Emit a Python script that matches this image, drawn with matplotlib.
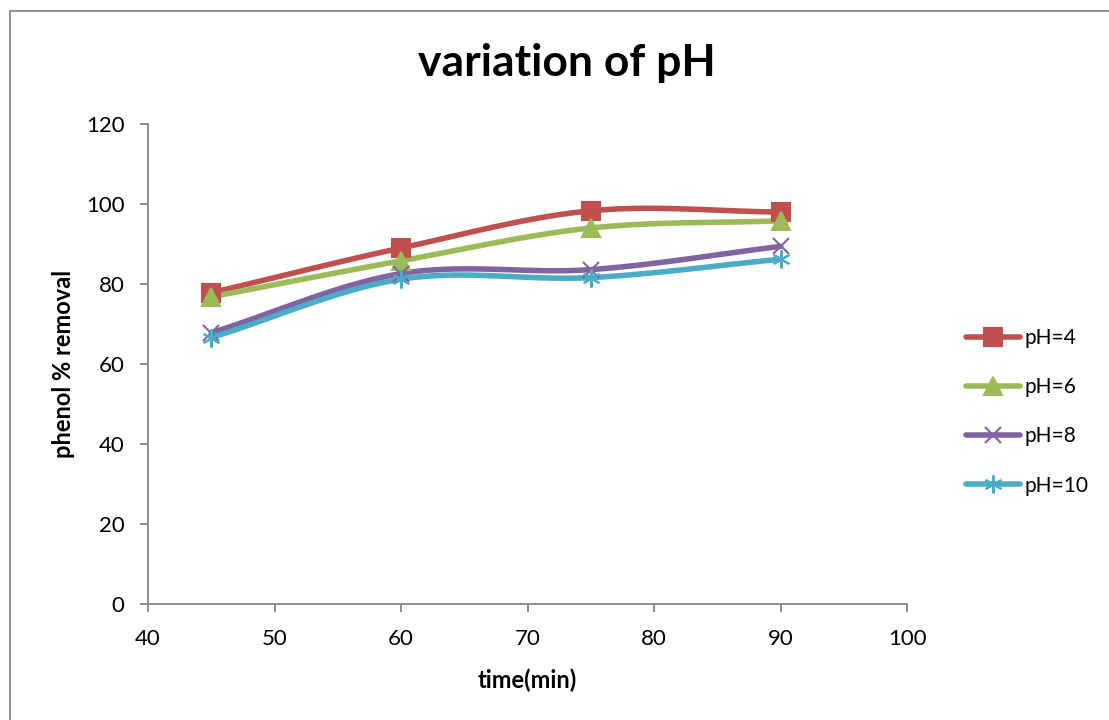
import numpy as np
import matplotlib
matplotlib.use("Agg")
import matplotlib.pyplot as plt
from matplotlib.patches import Rectangle
from matplotlib.lines import Line2D

plt.rcParams["font.family"] = ["Lato", "DejaVu Sans"]

time_min = [45, 60, 75, 90]
series_labels = ["pH=4", "pH=6", "pH=8", "pH=10"]
ph4 = [77.8, 89.0, 98.3, 98.0]
ph6 = [76.8, 85.8, 94.0, 95.8]
ph8 = [67.8, 82.6, 83.6, 89.4]
ph10 = [66.6, 81.2, 81.6, 86.2]

colors = ["#C0504D", "#9BBB59", "#8064A2", "#4BACC6"]
markers = ["s", "^", "x", (6, 2, 0)]
msizes = [13, 13, 11, 13]


def smooth(x, y, n=40):
    # Catmull-Rom through the points, like Excel's smoothed line
    x = np.asarray(x, float)
    y = np.asarray(y, float)
    px = np.concatenate([[2 * x[0] - x[1]], x, [2 * x[-1] - x[-2]]])
    py = np.concatenate([[2 * y[0] - y[1]], y, [2 * y[-1] - y[-2]]])
    xs, ys = [], []
    t = np.linspace(0, 1, n)
    for i in range(1, len(px) - 2):
        for p, out in ((px, xs), (py, ys)):
            p0, p1, p2, p3 = p[i - 1], p[i], p[i + 1], p[i + 2]
            out.append(0.5 * (2 * p1 + (-p0 + p2) * t
                              + (2 * p0 - 5 * p1 + 4 * p2 - p3) * t ** 2
                              + (-p0 + 3 * p1 - 3 * p2 + p3) * t ** 3))
    return np.concatenate(xs), np.concatenate(ys)


fig = plt.figure(figsize=(11.09, 7.2), dpi=100)
ax = fig.add_axes([0.1335, 0.1611, 0.6845, 0.6667])

handles = []
for vals, c, m, ms, lab in zip([ph4, ph6, ph8, ph10], colors, markers, msizes, series_labels):
    sx, sy = smooth(time_min, vals)
    ax.plot(sx, sy, color=c, lw=4.0, solid_capstyle="round", zorder=2)
    ax.plot(time_min, vals, ls="none", marker=m, ms=ms, color=c,
            mec=c, mew=1.5, zorder=3)
    handles.append(Line2D([], [], color=c, lw=4.0, marker=m, ms=ms, mec=c,
                          mew=1.5, solid_capstyle="round"))

ax.set_xlim(40, 100)
ax.set_ylim(0, 120)
ax.set_xticks(range(40, 101, 10))
ax.set_yticks(range(0, 121, 20))
for s in ["top", "right"]:
    ax.spines[s].set_visible(False)
for s in ["left", "bottom"]:
    ax.spines[s].set_color("#868686")
    ax.spines[s].set_linewidth(1.3)
ax.tick_params(colors="#868686", labelcolor="black", labelsize=16, length=6,
               width=1.3, direction="out")
ax.tick_params(axis="x", pad=12)
ax.tick_params(axis="y", pad=11)

ax.set_xlabel("time(min)", fontsize=17, fontweight="bold", labelpad=14)
ax.set_ylabel("phenol % removal", fontsize=17, fontweight="bold", labelpad=8)
fig.text(0.511, 0.913, "variation of pH", ha="center", va="center",
         fontsize=32, fontweight="bold")

fig.legend(handles, series_labels, loc="center left",
           bbox_to_anchor=(0.871, 0.428), frameon=False, fontsize=15,
           borderpad=0, borderaxespad=0,
           handlelength=2.6, handletextpad=0.2, labelspacing=1.4)

fig.patches.append(Rectangle((0.009, -0.1), 1.2, 1.085, transform=fig.transFigure,
                             fill=False, edgecolor="#868686", lw=1.3))

fig.savefig("out.png", dpi=100)
